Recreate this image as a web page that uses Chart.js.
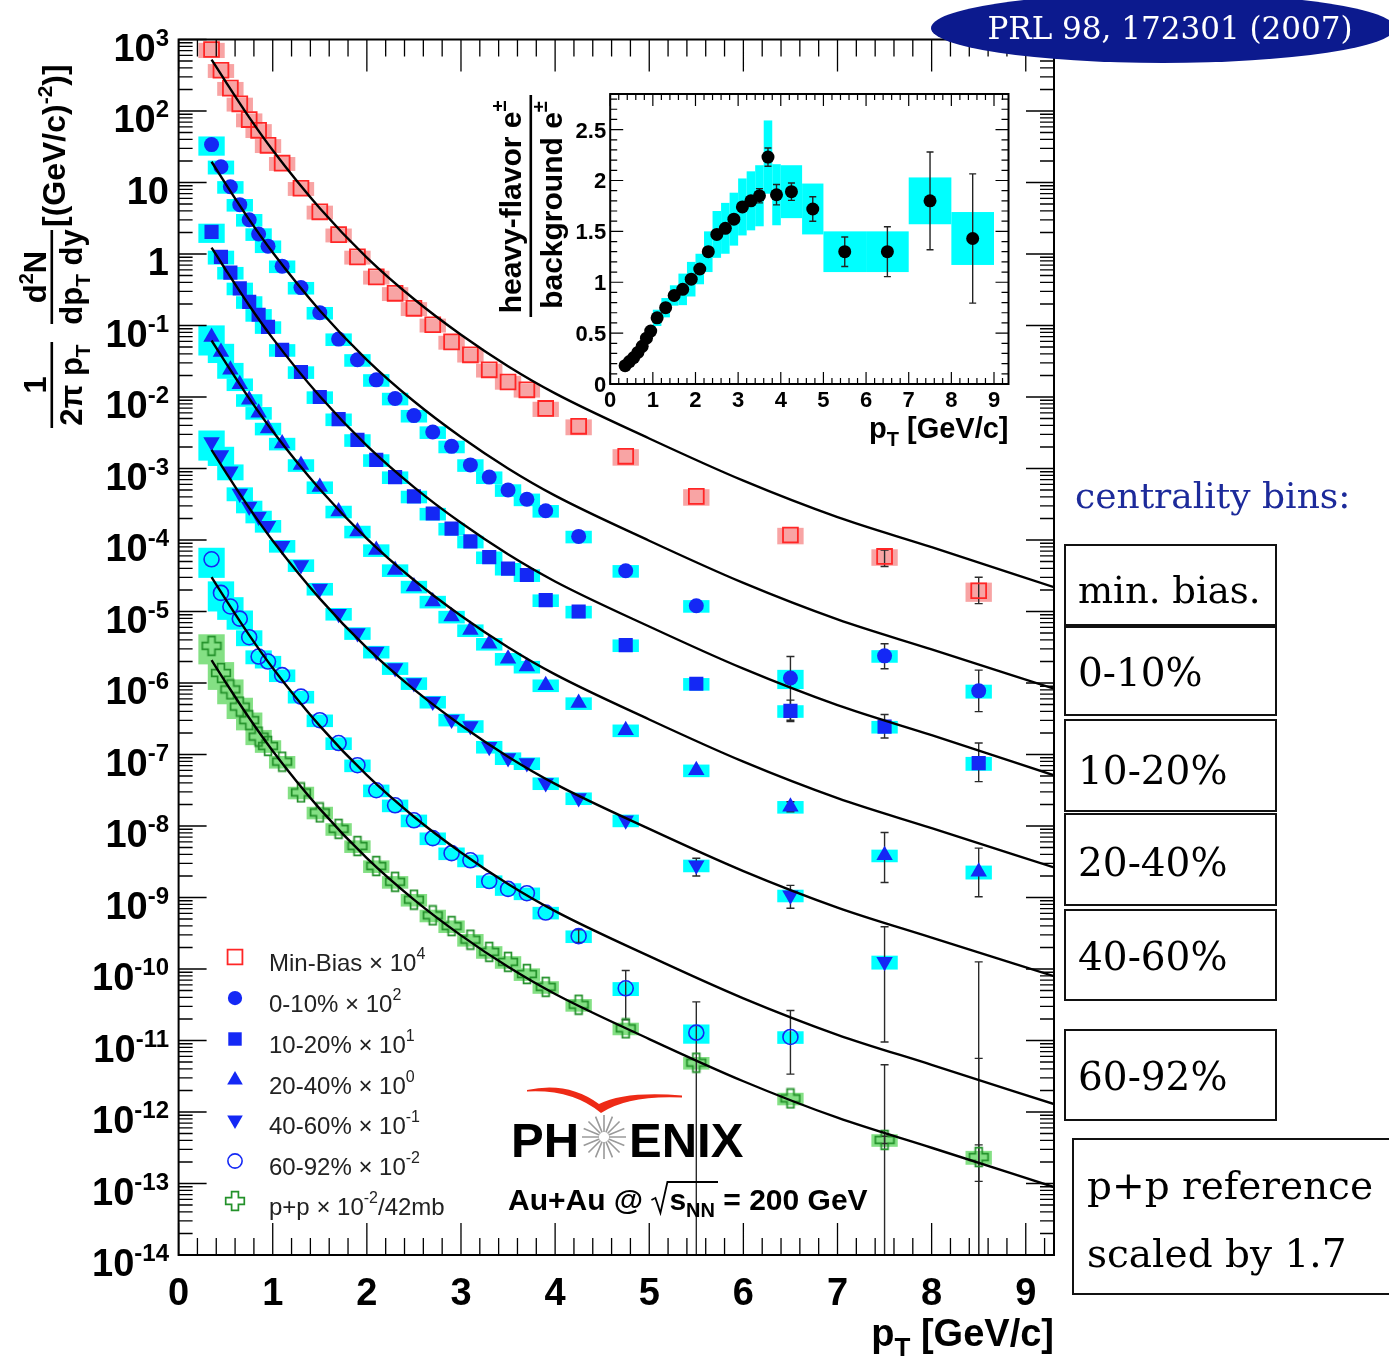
<!DOCTYPE html>
<html>
<head>
<meta charset="UTF-8">
<title>PHENIX heavy-flavor electron spectra, Au+Au 200 GeV</title>
<script src="https://cdn.jsdelivr.net/npm/chart.js"></script>
<style>
  html, body { margin: 0; padding: 0; background: #fff; }
  #wrap { position: relative; width: 1389px; height: 1366px; overflow: hidden; }
  #wrap canvas { position: absolute; left: 0; top: 0; }
</style>
</head>
<body>
<div id="wrap">
  <canvas id="main" width="1389" height="1366"></canvas>
  <canvas id="inset" width="1389" height="1366"></canvas>
</div>
<script>
// ---- data (yields stored as log10 values) ----
const pt = [0.35, 0.45, 0.55, 0.65, 0.75, 0.85, 0.95, 1.1, 1.3, 1.5, 1.7, 1.9, 2.1, 2.3,
            2.5, 2.7, 2.9, 3.1, 3.3, 3.5, 3.7, 3.9, 4.25, 4.75, 5.5, 6.5, 7.5, 8.5];

const mbLog   = [2.86, 2.57, 2.32, 2.10, 1.88, 1.73, 1.52, 1.27, 0.92, 0.59, 0.27, -0.04, -0.32, -0.55,
                 -0.76, -0.99, -1.23, -1.41, -1.62, -1.79, -1.90, -2.16, -2.41, -2.83, -3.39, -3.93, -4.23, -4.71];
const c010Log = [1.53, 1.22, 0.94, 0.69, 0.48, 0.28, 0.11, -0.17, -0.47, -0.82, -1.19, -1.48, -1.76, -2.02,
                 -2.26, -2.49, -2.69, -2.95, -3.12, -3.30, -3.43, -3.59, -3.95, -4.43, -4.92, -5.93, -5.62, -6.11];
const c1020Log = [0.31, -0.04, -0.26, -0.48, -0.67, -0.85, -1.02, -1.34, -1.65, -2.00, -2.31, -2.60, -2.88, -3.12,
                 -3.39, -3.63, -3.84, -4.02, -4.24, -4.40, -4.49, -4.84, -5.00, -5.47, -6.01, -6.39, -6.61, -7.12];
const c2040Log = [-1.16, -1.37, -1.62, -1.82, -2.04, -2.22, -2.44, -2.65, -2.95, -3.26, -3.60, -3.88, -4.14, -4.42,
                 -4.65, -4.86, -5.07, -5.26, -5.45, -5.66, -5.77, -6.03, -6.28, -6.66, -7.22, -7.73, -8.41, -8.64];
const c4060Log = [-2.63, -2.81, -3.04, -3.35, -3.53, -3.67, -3.80, -4.08, -4.35, -4.68, -5.03, -5.30, -5.56, -5.79,
                 -6.00, -6.26, -6.51, -6.60, -6.89, -7.05, -7.12, -7.40, -7.61, -7.92, -8.55, -8.97, -9.90, null];
const c6092Log = [-4.27, -4.74, -4.93, -5.10, -5.36, -5.63, -5.70, -5.89, -6.19, -6.52, -6.84, -7.15, -7.50, -7.71,
                 -7.92, -8.17, -8.38, -8.48, -8.77, -8.88, -8.94, -9.21, -9.54, -10.27, -10.89, -10.95, null, null];
const ppLog   = [-5.48, -5.86, -6.09, -6.33, -6.52, -6.75, -6.88, -7.10, -7.53, -7.81, -8.04, -8.28, -8.56, -8.78,
                 -9.03, -9.25, -9.40, -9.59, -9.76, -9.90, -10.07, -10.25, -10.50, -10.83, -11.31, -11.81, -12.39, -12.63];

// relative systematic errors (boxes)
const mbSys   = [0.24, 0.22, 0.22, 0.22, 0.22, 0.22, 0.22, 0.22, 0.22, 0.22, 0.22, 0.22, 0.22, 0.22,
                 0.22, 0.22, 0.22, 0.22, 0.22, 0.22, 0.22, 0.24, 0.25, 0.26, 0.26, 0.26, 0.26, 0.30];
const c010Sys = [0.30, 0.22, 0.20, 0.20, 0.20, 0.20, 0.20, 0.20, 0.20, 0.20, 0.20, 0.20, 0.20, 0.20,
                 0.20, 0.20, 0.20, 0.20, 0.20, 0.20, 0.20, 0.20, 0.20, 0.20, 0.20, 0.30, 0.20, 0.22];
const c1020Sys = [0.30, 0.22, 0.20, 0.20, 0.20, 0.20, 0.20, 0.20, 0.20, 0.20, 0.20, 0.20, 0.20, 0.20,
                 0.20, 0.20, 0.20, 0.20, 0.20, 0.20, 0.20, 0.20, 0.20, 0.20, 0.20, 0.20, 0.20, 0.22];
const c2040Sys = [0.45, 0.30, 0.25, 0.20, 0.20, 0.20, 0.20, 0.20, 0.20, 0.20, 0.20, 0.20, 0.20, 0.20,
                 0.20, 0.20, 0.20, 0.20, 0.20, 0.20, 0.20, 0.20, 0.20, 0.20, 0.20, 0.20, 0.20, 0.22];
const c4060Sys = [0.45, 0.30, 0.25, 0.22, 0.20, 0.20, 0.20, 0.20, 0.20, 0.20, 0.20, 0.20, 0.20, 0.20,
                 0.20, 0.20, 0.20, 0.20, 0.20, 0.20, 0.20, 0.20, 0.20, 0.20, 0.20, 0.20, 0.22, 0.20];
const c6092Sys = [0.45, 0.45, 0.35, 0.30, 0.25, 0.22, 0.20, 0.20, 0.20, 0.20, 0.20, 0.20, 0.20, 0.20,
                 0.20, 0.20, 0.20, 0.20, 0.20, 0.20, 0.20, 0.20, 0.20, 0.22, 0.30, 0.20, 0.20, 0.20];
const ppSys   = [0.45, 0.42, 0.38, 0.33, 0.28, 0.24, 0.20, 0.20, 0.20, 0.20, 0.20, 0.20, 0.20, 0.20,
                 0.20, 0.20, 0.20, 0.20, 0.20, 0.20, 0.20, 0.20, 0.20, 0.20, 0.20, 0.20, 0.20, 0.22];

// statistical error bars [low, high] (log10) for the last six bins (4.25 ... 8.5 GeV/c)
const mbErr   = [null, null, null, null, [-4.37, -4.14], [-4.89, -4.52]];
const c010Err = [null, null, null, [-6.52, -5.63], [-5.80, -5.45], [-6.40, -5.82]];
const c1020Err = [null, null, null, [-6.54, -6.24], [-6.77, -6.44], [-7.38, -6.84]];
const c2040Err = [null, null, null, [-7.80, -7.66], [-8.79, -8.09], [-8.99, -8.31]];
const c4060Err = [null, null, [-8.70, -8.45], [-9.15, -8.83], [-11.02, -9.41], [-15, -9.90]];
const c6092Err = [[-9.63, -9.45], [-10.71, -10.02], [-15, -10.46], [-11.47, -10.58], [-15, -11.34], [-15, -11.25]];
const ppErr   = [null, null, null, null, [-12.44, -12.34], [-12.97, -12.46]];

// fit curves (p+p fit scaled), log10 values at these pT
const fitX     = [0.35, 0.5, 0.75, 1.0, 1.5, 2.0, 2.5, 3.0, 3.5, 4.0, 5.0, 6.0, 7.0, 8.0, 9.3];
const mbFit    = [2.72, 2.41, 1.91, 1.45, 0.64, -0.05, -0.63, -1.13, -1.57, -1.95, -2.58, -3.17, -3.68, -4.10, -4.66];
const c010Fit  = [1.29, 0.98, 0.48, 0.02, -0.79, -1.48, -2.06, -2.56, -3.00, -3.38, -4.01, -4.60, -5.11, -5.53, -6.08];
const c1020Fit = [0.09, -0.22, -0.72, -1.18, -1.99, -2.68, -3.26, -3.76, -4.20, -4.58, -5.21, -5.80, -6.31, -6.73, -7.29];
const c2040Fit = [-1.21, -1.52, -2.02, -2.48, -3.29, -3.98, -4.56, -5.06, -5.50, -5.88, -6.51, -7.10, -7.61, -8.03, -8.58];
const c4060Fit = [-2.74, -3.05, -3.55, -4.01, -4.82, -5.51, -6.09, -6.59, -7.03, -7.41, -8.04, -8.63, -9.14, -9.56, -10.10];
const c6092Fit = [-4.52, -4.83, -5.33, -5.79, -6.60, -7.29, -7.87, -8.37, -8.81, -9.19, -9.82, -10.41, -10.92, -11.34, -11.89];
const ppFit    = [-5.68, -5.99, -6.49, -6.95, -7.76, -8.45, -9.03, -9.53, -9.97, -10.35, -10.98, -11.57, -12.08, -12.50, -13.05];

// inset: heavy-flavour / background ratio
const ratio    = [0.18, 0.22, 0.26, 0.31, 0.37, 0.45, 0.52, 0.65, 0.75, 0.87, 0.93, 1.03, 1.13, 1.30,
                  1.47, 1.53, 1.62, 1.74, 1.80, 1.85, 2.23, 1.86, 1.89, 1.72, 1.30, 1.30, 1.80, 1.43];
const ratioSys = [0.03, 0.03, 0.035, 0.04, 0.045, 0.05, 0.06, 0.08, 0.095, 0.10, 0.155, 0.17, 0.15, 0.20,
                  0.23, 0.25, 0.26, 0.28, 0.29, 0.30, 0.36, 0.30, 0.26, 0.25, 0.20, 0.20, 0.23, 0.26];
const ratioStat = [0.01, 0.01, 0.01, 0.01, 0.01, 0.01, 0.01, 0.01, 0.01, 0.01, 0.01, 0.02, 0.02, 0.02,
                  0.02, 0.02, 0.02, 0.03, 0.03, 0.07, 0.09, 0.10, 0.085, 0.12, 0.145, 0.245, 0.48, 0.635];
const binHalf  = [0.05, 0.05, 0.05, 0.05, 0.05, 0.05, 0.05, 0.1, 0.1, 0.1, 0.1, 0.1, 0.1, 0.1,
                  0.1, 0.1, 0.1, 0.1, 0.1, 0.1, 0.1, 0.1, 0.25, 0.25, 0.5, 0.5, 0.5, 0.5];

const legendText = [['Min-Bias', '4'], ['0-10%', '2'], ['10-20%', '1'], ['20-40%', '0'],
                    ['40-60%', '-1'], ['60-92%', '-2'], ['p+p', '-2', '/42mb']];
const binLabels = ['min. bias.', '0-10%', '10-20%', '20-40%', '40-60%', '60-92%'];

// ---- styles ----
const SANS = '"Liberation Sans", Arial, sans-serif';
const SERIF = '"DejaVu Serif", "Liberation Serif", serif';
const BLUE = '#1428f5', CYAN = '#00ffff';
const HIGH0 = 22;           // first index of the 6 high-pT bins
const BOX_HW = 0.14;        // half width of systematic boxes (GeV/c)

function crossImg() {
  const c = document.createElement('canvas');
  c.width = c.height = 22;
  const g = c.getContext('2d'), m = 11, a = 3.4, L = 9.3;
  g.beginPath();
  g.moveTo(m - a, m - L); g.lineTo(m + a, m - L); g.lineTo(m + a, m - a); g.lineTo(m + L, m - a);
  g.lineTo(m + L, m + a); g.lineTo(m + a, m + a); g.lineTo(m + a, m + L); g.lineTo(m - a, m + L);
  g.lineTo(m - a, m + a); g.lineTo(m - L, m + a); g.lineTo(m - L, m - a); g.lineTo(m - a, m - a);
  g.closePath();
  g.strokeStyle = '#23912a'; g.lineWidth = 1.7; g.stroke();
  return c;
}
const CROSS = crossImg();

const series = [
  { log: mbLog, sys: mbSys, err: mbErr, fit: mbFit, box: '#f8a4a4',
    m: { pointStyle: 'rect', radius: 10.5, rotation: 0, borderWidth: 1.8, fill: 'rgba(0,0,0,0)', stroke: '#ff2626' } },
  { log: c010Log, sys: c010Sys, err: c010Err, fit: c010Fit, box: CYAN,
    m: { pointStyle: 'circle', radius: 7.5, rotation: 0, borderWidth: 0, fill: BLUE, stroke: BLUE } },
  { log: c1020Log, sys: c1020Sys, err: c1020Err, fit: c1020Fit, box: CYAN,
    m: { pointStyle: 'rect', radius: 10, rotation: 0, borderWidth: 0, fill: BLUE, stroke: BLUE } },
  { log: c2040Log, sys: c2040Sys, err: c2040Err, fit: c2040Fit, box: CYAN,
    m: { pointStyle: 'triangle', radius: 9.5, rotation: 0, borderWidth: 0, fill: BLUE, stroke: BLUE } },
  { log: c4060Log, sys: c4060Sys, err: c4060Err, fit: c4060Fit, box: CYAN,
    m: { pointStyle: 'triangle', radius: 9.5, rotation: 180, borderWidth: 0, fill: BLUE, stroke: BLUE } },
  { log: c6092Log, sys: c6092Sys, err: c6092Err, fit: c6092Fit, box: CYAN,
    m: { pointStyle: 'circle', radius: 7.5, rotation: 0, borderWidth: 1.6, fill: 'rgba(0,0,0,0)', stroke: BLUE } },
  { log: ppLog, sys: ppSys, err: ppErr, fit: ppFit, box: '#84e084',
    m: { pointStyle: CROSS, radius: 10, rotation: 0, borderWidth: 0, fill: 'rgba(0,0,0,0)', stroke: '#23912a' } }
];

// ---- text helper with sub/superscripts ----
function rich(ctx, parts, x, y, align) {
  let w = 0;
  parts.forEach(p => { ctx.font = p.f; w += ctx.measureText(p.t).width; });
  let cx = align === 'right' ? x - w : (align === 'center' ? x - w / 2 : x);
  ctx.textAlign = 'left';
  ctx.textBaseline = 'alphabetic';
  parts.forEach(p => {
    ctx.font = p.f;
    ctx.fillText(p.t, cx, y + (p.dy || 0));
    cx += ctx.measureText(p.t).width;
  });
  return w;
}
const bold = s => 'bold ' + s + 'px ' + SANS;
const reg = s => s + 'px ' + SANS;

const datasets = [];
series.forEach(s => {
  datasets.push({
    data: fitX.map((x, i) => ({ x: x, y: Math.pow(10, s.fit[i]) })),
    showLine: true, pointRadius: 0, borderColor: '#000', borderWidth: 2.4,
    cubicInterpolationMode: 'monotone', order: 0
  });
  datasets.push({
    data: pt.map((x, i) => ({ x: x, y: s.log[i] == null ? null : Math.pow(10, s.log[i]) })),
    showLine: false, pointStyle: s.m.pointStyle, pointRadius: s.m.radius, pointRotation: s.m.rotation,
    backgroundColor: s.m.fill, borderColor: s.m.stroke, pointBorderWidth: s.m.borderWidth,
    borderWidth: s.m.borderWidth, order: 1
  });
});

const mainDecor = {
  id: 'mainDecor',
  beforeDatasetsDraw(chart) {
    const { ctx, chartArea: a, scales: { x, y } } = chart;
    ctx.save();
    ctx.beginPath(); ctx.rect(a.left, a.top, a.right - a.left, a.bottom - a.top); ctx.clip();
    series.forEach(s => {
      ctx.fillStyle = s.box;
      pt.forEach((p, i) => {
        if (s.log[i] == null) return;
        const v = Math.pow(10, s.log[i]), e = s.sys[i];
        const x0 = x.getPixelForValue(p - BOX_HW), x1 = x.getPixelForValue(p + BOX_HW);
        const y0 = y.getPixelForValue(v * (1 + e)), y1 = y.getPixelForValue(v * (1 - e));
        ctx.fillRect(x0, y0, x1 - x0, y1 - y0);
      });
    });
    ctx.strokeStyle = '#2a2a2a'; ctx.lineWidth = 1.4;
    series.forEach(s => {
      s.err.forEach((e, j) => {
        if (!e) return;
        const px = x.getPixelForValue(pt[HIGH0 + j]);
        const ylo = y.getPixelForValue(Math.pow(10, e[0])), yhi = y.getPixelForValue(Math.pow(10, e[1]));
        ctx.beginPath();
        ctx.moveTo(px, ylo); ctx.lineTo(px, yhi);
        ctx.moveTo(px - 4, yhi); ctx.lineTo(px + 4, yhi);
        ctx.moveTo(px - 4, ylo); ctx.lineTo(px + 4, ylo);
        ctx.stroke();
      });
    });
    ctx.restore();
  },
  afterDraw(chart) {
    const { ctx, chartArea: a, scales: { x, y } } = chart;
    ctx.save();
    // frame + ticks on all sides
    ctx.strokeStyle = '#000'; ctx.lineWidth = 2;
    ctx.strokeRect(a.left, a.top, a.right - a.left, a.bottom - a.top);
    ctx.lineWidth = 1.3;
    ctx.beginPath();
    for (let k = 0; k <= 46; k++) {
      const px = x.getPixelForValue(k * 0.2), len = k % 5 === 0 ? 32 : 17;
      ctx.moveTo(px, a.bottom); ctx.lineTo(px, a.bottom - len);
      ctx.moveTo(px, a.top); ctx.lineTo(px, a.top + len);
    }
    for (let e = -14; e <= 3; e++) {
      for (let m = 1; m <= 9; m++) {
        if (e === 3 && m > 1) break;
        const py = y.getPixelForValue(m * Math.pow(10, e)), len = m === 1 ? 28 : 14;
        ctx.moveTo(a.left, py); ctx.lineTo(a.left + len, py);
        ctx.moveTo(a.right, py); ctx.lineTo(a.right - len, py);
      }
    }
    ctx.stroke();

    // tick labels
    ctx.fillStyle = '#000';
    for (let e = -14; e <= 3; e++) {
      const py = y.getPixelForValue(Math.pow(10, e)) + 21;
      let parts;
      if (e === 0) parts = [{ t: '1', f: bold(38) }];
      else if (e === 1) parts = [{ t: '10', f: bold(38) }];
      else parts = [{ t: '10', f: bold(38) }, { t: String(e), f: bold(24), dy: -15 }];
      rich(ctx, parts, 169, py, 'right');
    }
    for (let k = 0; k <= 9; k++) {
      rich(ctx, [{ t: String(k), f: bold(38) }], x.getPixelForValue(k), 1305, 'center');
    }
    // x title
    rich(ctx, [{ t: 'p', f: bold(38) }, { t: 'T', f: bold(26), dy: 10 }, { t: ' [GeV/c]', f: bold(38) }],
         a.right, 1346, 'right');

    // y title (rotated)
    ctx.save();
    ctx.rotate(-Math.PI / 2);
    const fr = (c, half, num, den) => {
      ctx.fillRect(-c - half, 50.5, 2 * half, 2.6);
      rich(ctx, num, -c, 46, 'center');
      rich(ctx, den, -c, 82, 'center');
    };
    fr(385, 43, [{ t: '1', f: bold(31) }],
       [{ t: '2\u03c0', f: bold(31) }, { t: ' p', f: bold(31) }, { t: 'T', f: bold(21), dy: 8 }]);
    fr(277, 47, [{ t: 'd', f: bold(31) }, { t: '2', f: bold(20), dy: -13 }, { t: 'N', f: bold(31) }],
       [{ t: 'dp', f: bold(31) }, { t: 'T', f: bold(21), dy: 8 }, { t: ' dy', f: bold(31) }]);
    rich(ctx, [{ t: '[(GeV/c)', f: bold(32) }, { t: '-2', f: bold(21), dy: -13 }, { t: ')]', f: bold(32) }],
         -227, 65, 'left');
    ctx.restore();

    // legend
    const rowY = [957, 998, 1039, 1080, 1120, 1161, 1201];
    series.forEach((s, i) => {
      ctx.fillStyle = s.m.fill; ctx.strokeStyle = s.m.stroke; ctx.lineWidth = s.m.borderWidth;
      const opt = { pointStyle: s.m.pointStyle, radius: i === 0 ? 10.5 : s.m.radius * 0.95,
                    rotation: s.m.rotation, borderWidth: s.m.borderWidth };
      Chart.helpers.drawPoint(ctx, opt, 235, rowY[i]);
      ctx.fillStyle = '#222';
      const L = legendText[i];
      const parts = [{ t: L[0] + ' \u00d7 10', f: reg(24) }, { t: L[1], f: reg(16), dy: -12 }];
      if (L[2]) parts.push({ t: L[2], f: reg(24) });
      rich(ctx, parts, 269, rowY[i] + 14, 'left');
    });

    // PHENIX logo
    ctx.fillStyle = '#000';
    rich(ctx, [{ t: 'PH', f: bold(49) }], 511, 1157, 'left');
    rich(ctx, [{ t: 'ENIX', f: bold(49) }], 629, 1157, 'left');
    ctx.strokeStyle = '#9a9a9a'; ctx.lineWidth = 1.6;
    ctx.beginPath();
    for (let k = 0; k < 16; k++) {
      const t = k * Math.PI / 8;
      ctx.moveTo(604 + 5 * Math.cos(t), 1137 + 5 * Math.sin(t));
      ctx.lineTo(604 + 22 * Math.cos(t), 1137 + 22 * Math.sin(t));
    }
    ctx.stroke();
    ctx.fillStyle = '#ee2a16';
    ctx.beginPath();
    ctx.moveTo(527, 1090);
    ctx.quadraticCurveTo(568, 1081, 599, 1104);
    ctx.quadraticCurveTo(625, 1091, 682, 1095.5);
    ctx.lineTo(682, 1097.5);
    ctx.quadraticCurveTo(628, 1095, 601, 1113);
    ctx.quadraticCurveTo(572, 1089, 527, 1091.5);
    ctx.closePath(); ctx.fill();

    // Au+Au @ sqrt(s_NN) = 200 GeV
    ctx.fillStyle = '#000';
    const bx = 508, by = 1210;
    const w1 = rich(ctx, [{ t: 'Au+Au @ ', f: bold(30) }], bx, by, 'left');
    const rx = bx + w1;
    ctx.font = bold(30);
    const ws = ctx.measureText('s').width;
    ctx.font = bold(20);
    const wn = ctx.measureText('NN').width;
    ctx.strokeStyle = '#000'; ctx.lineWidth = 1.8;
    ctx.beginPath();
    ctx.moveTo(rx, by - 10); ctx.lineTo(rx + 4, by - 12); ctx.lineTo(rx + 9, by + 3);
    ctx.lineTo(rx + 16, by - 28); ctx.lineTo(rx + 19 + ws + wn + 2, by - 28);
    ctx.stroke();
    rich(ctx, [{ t: 's', f: bold(30) }, { t: 'NN', f: bold(20), dy: 7 }, { t: ' = 200 GeV', f: bold(30) }],
         rx + 18, by, 'left');

    // right-hand annotations
    ctx.fillStyle = '#0c1a8e';
    ctx.beginPath(); ctx.ellipse(1163, 28, 232, 35, 0, 0, 2 * Math.PI); ctx.fill();
    ctx.fillStyle = '#fff'; ctx.font = '31px ' + SERIF; ctx.textAlign = 'center';
    ctx.fillText('PRL 98, 172301 (2007)', 1170, 39);
    ctx.fillStyle = '#1c2a9a'; ctx.font = '36px ' + SERIF; ctx.textAlign = 'left';
    ctx.fillText('centrality bins:', 1075, 508);

    ctx.strokeStyle = '#111'; ctx.lineWidth = 2;
    const boxes = [[545, 625, 603], [627, 715, 686], [720, 811, 784], [814, 905, 876],
                   [910, 1000, 970], [1030, 1120, 1090]];
    ctx.fillStyle = '#000';
    boxes.forEach((b, i) => {
      ctx.strokeRect(1065, b[0], 211, b[1] - b[0]);
      ctx.font = (i === 0 ? 37 : 39) + 'px ' + SERIF;
      ctx.fillText(binLabels[i], 1078, b[2]);
    });
    ctx.strokeRect(1073, 1139, 330, 155);
    ctx.font = '39px ' + SERIF;
    ctx.fillText('p+p reference', 1087, 1199);
    ctx.fillText('scaled by 1.7', 1087, 1267);
    ctx.restore();
  }
};

new Chart(document.getElementById('main'), {
  type: 'scatter',
  data: { datasets: datasets },
  options: {
    responsive: false, animation: false, devicePixelRatio: 1,
    layout: { padding: { left: 178.6, right: 335, top: 39.5, bottom: 111 } },
    scales: {
      x: { type: 'linear', min: 0, max: 9.3, display: false },
      y: { type: 'logarithmic', min: 1e-14, max: 1e3, display: false }
    },
    plugins: { legend: { display: false }, tooltip: { enabled: false } }
  },
  plugins: [mainDecor]
});

// ---- inset ----
const insetDecor = {
  id: 'insetDecor',
  beforeDraw(chart) {
    const { ctx, chartArea: a } = chart;
    ctx.save(); ctx.fillStyle = '#fff';
    ctx.fillRect(a.left, a.top, a.right - a.left, a.bottom - a.top);
    ctx.restore();
  },
  beforeDatasetsDraw(chart) {
    const { ctx, chartArea: a, scales: { x, y } } = chart;
    ctx.save();
    ctx.beginPath(); ctx.rect(a.left, a.top, a.right - a.left, a.bottom - a.top); ctx.clip();
    ctx.fillStyle = CYAN;
    pt.forEach((p, i) => {
      const x0 = x.getPixelForValue(p - binHalf[i]), x1 = x.getPixelForValue(p + binHalf[i]);
      const y0 = y.getPixelForValue(ratio[i] + ratioSys[i]), y1 = y.getPixelForValue(ratio[i] - ratioSys[i]);
      ctx.fillRect(x0, y0, x1 - x0, y1 - y0);
    });
    ctx.strokeStyle = '#222'; ctx.lineWidth = 1.4;
    ctx.beginPath();
    pt.forEach((p, i) => {
      if (ratioStat[i] < 0.05) return;
      const px = x.getPixelForValue(p);
      const y0 = y.getPixelForValue(ratio[i] + ratioStat[i]), y1 = y.getPixelForValue(ratio[i] - ratioStat[i]);
      ctx.moveTo(px, y0); ctx.lineTo(px, y1);
      ctx.moveTo(px - 3.5, y0); ctx.lineTo(px + 3.5, y0);
      ctx.moveTo(px - 3.5, y1); ctx.lineTo(px + 3.5, y1);
    });
    ctx.stroke();
    ctx.restore();
  },
  afterDraw(chart) {
    const { ctx, chartArea: a, scales: { x, y } } = chart;
    ctx.save();
    ctx.strokeStyle = '#000'; ctx.lineWidth = 2;
    ctx.strokeRect(a.left, a.top, a.right - a.left, a.bottom - a.top);
    ctx.lineWidth = 1.2;
    ctx.beginPath();
    for (let k = 0; k <= 46; k++) {
      const v = k * 0.2;
      if (v > 9.34) break;
      const px = x.getPixelForValue(v), len = k % 5 === 0 ? 12 : 6;
      ctx.moveTo(px, a.bottom); ctx.lineTo(px, a.bottom - len);
      ctx.moveTo(px, a.top); ctx.lineTo(px, a.top + len);
    }
    for (let k = 0; k <= 28; k++) {
      const py = y.getPixelForValue(k * 0.1), len = k % 5 === 0 ? 13 : 7;
      ctx.moveTo(a.left, py); ctx.lineTo(a.left + len, py);
      ctx.moveTo(a.right, py); ctx.lineTo(a.right - len, py);
    }
    ctx.stroke();

    ctx.fillStyle = '#000';
    ['0', '0.5', '1', '1.5', '2', '2.5'].forEach((t, k) => {
      rich(ctx, [{ t: t, f: bold(22) }], a.left - 4, y.getPixelForValue(k * 0.5) + 8, 'right');
    });
    for (let k = 0; k <= 9; k++) {
      rich(ctx, [{ t: String(k), f: bold(22) }], x.getPixelForValue(k), 407, 'center');
    }
    rich(ctx, [{ t: 'p', f: bold(29) }, { t: 'T', f: bold(20), dy: 8 }, { t: ' [GeV/c]', f: bold(29) }],
         a.right, 438, 'right');

    ctx.save();
    ctx.rotate(-Math.PI / 2);
    ctx.fillRect(-317, 529.5, 222, 2.6);
    rich(ctx, [{ t: 'heavy-flavor e', f: bold(30) }, { t: '\u00b1', f: bold(20), dy: -15 }], -207, 521, 'center');
    rich(ctx, [{ t: 'background e', f: bold(30) }, { t: '\u00b1', f: bold(20), dy: -15 }], -205, 562, 'center');
    ctx.restore();
    ctx.restore();
  }
};

new Chart(document.getElementById('inset'), {
  type: 'scatter',
  data: {
    datasets: [{
      data: pt.map((x, i) => ({ x: x, y: ratio[i] })),
      pointStyle: 'circle', pointRadius: 6.5, backgroundColor: '#000', borderColor: '#000', borderWidth: 0
    }]
  },
  options: {
    responsive: false, animation: false, devicePixelRatio: 1,
    layout: { padding: { left: 610.2, right: 380.5, top: 94, bottom: 982 } },
    scales: {
      x: { type: 'linear', min: 0, max: 9.34, display: false },
      y: { type: 'linear', min: 0, max: 2.85, display: false }
    },
    plugins: { legend: { display: false }, tooltip: { enabled: false } }
  },
  plugins: [insetDecor]
});
</script>
</body>
</html>
